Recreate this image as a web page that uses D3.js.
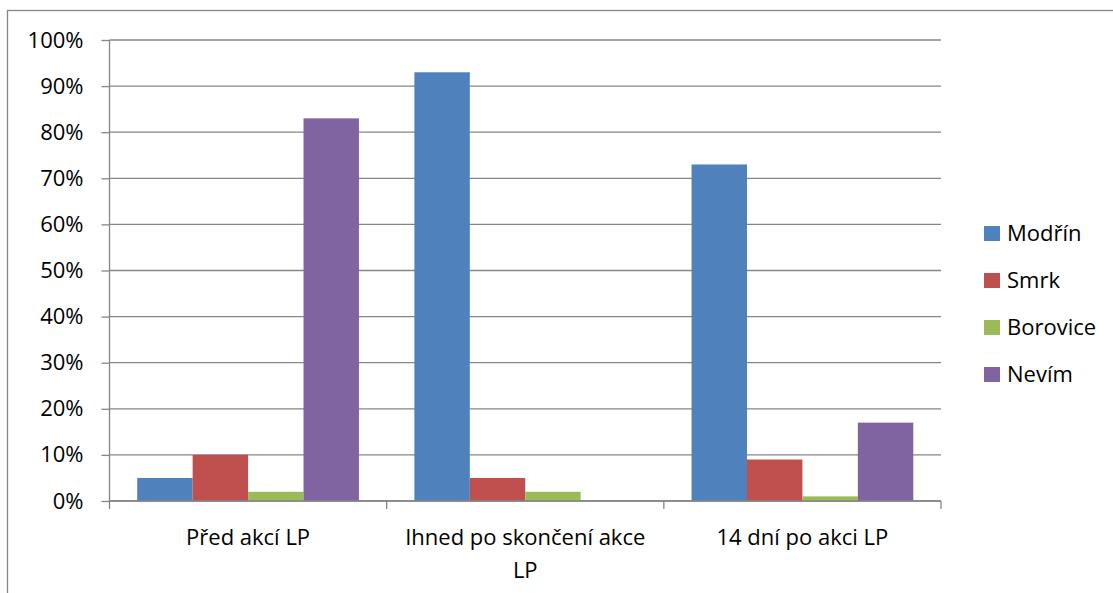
<!DOCTYPE html>
<html><head><meta charset="utf-8">
<script src="https://cdn.jsdelivr.net/npm/d3@7"></script>
<style>body{margin:0;background:#fff}svg{display:block}</style>
</head><body>
<svg id="c" width="1113" height="593"></svg>
<script>
const categories = ["Před akcí LP", "Ihned po skončení akce LP", "14 dní po akci LP"];
const seriesNames = ["Modřín", "Smrk", "Borovice", "Nevím"];
const modrin = [5, 93, 73];
const smrk = [10, 5, 9];
const borovice = [2, 2, 1];
const nevim = [83, 0, 17];
const yTicks = [0, 10, 20, 30, 40, 50, 60, 70, 80, 90, 100];
const colors = ["#4F81BD", "#C0504D", "#9BBB59", "#8064A2"];
const seriesVals = [modrin, smrk, borovice, nevim];

const svg = d3.select("#c");
const font = "'Open Sans', sans-serif";
const fs = 22;
const grid = "#868686";

svg.append("rect").attr("x", 7.5).attr("y", 10.5).attr("width", 1200).attr("height", 700)
  .attr("fill", "none").attr("stroke", grid).attr("stroke-width", 1.3);

const L = 109.5, R = 941, T = 40, B = 501;
const x0 = d3.scaleBand().domain(categories).range([L, R]).paddingInner(0).paddingOuter(0);
const x1 = d3.scaleBand().domain(seriesNames).range([0, x0.bandwidth()]).paddingOuter(0.5).paddingInner(0);
const y = d3.scaleLinear().domain([0, 100]).range([B, T]);

// gridlines
svg.append("g").selectAll("line").data(yTicks).join("line")
  .attr("x1", L).attr("x2", R).attr("y1", d => y(d)).attr("y2", d => y(d))
  .attr("stroke", grid).attr("stroke-width", 1.3);

// y axis
const ya = svg.append("g").attr("transform", `translate(${L},0)`)
  .call(d3.axisLeft(y).tickValues(yTicks).tickFormat(d => d + "%").tickSize(8).tickPadding(18));
ya.select(".domain").attr("stroke", grid).attr("stroke-width", 1.3).attr("d", `M0,${T}V${B}`);
ya.selectAll(".tick line").attr("stroke", grid).attr("stroke-width", 1.3);
ya.selectAll("text").attr("font-family", font).attr("font-size", fs).attr("fill", "#000");

// bars
const groups = svg.append("g").selectAll("g").data(categories).join("g")
  .attr("transform", d => `translate(${x0(d)},0)`);
groups.selectAll("rect").data((c, i) => seriesNames.map((s, j) => ({s, v: seriesVals[j][i], j})))
  .join("rect")
  .attr("x", d => x1(d.s)).attr("width", x1.bandwidth())
  .attr("y", d => y(d.v)).attr("height", d => B - y(d.v))
  .attr("fill", d => colors[d.j]);

// x axis
const xa = svg.append("g").attr("transform", `translate(0,${B})`)
  .call(d3.axisBottom(x0).tickSize(0).tickFormat(""));
xa.select(".domain").attr("stroke", grid).attr("stroke-width", 1.3).attr("d", `M${L},0H${R}`);
const tickXs = [L, ...categories.map(c => x0(c) + x0.bandwidth())];
svg.append("g").selectAll("line").data(tickXs).join("line")
  .attr("x1", d => d).attr("x2", d => d).attr("y1", B).attr("y2", B + 8)
  .attr("stroke", grid).attr("stroke-width", 1.3);

const labelLines = [["Před akcí LP"], ["Ihned po skončení akce", "LP"], ["14 dní po akci LP"]];
categories.forEach((c, i) => {
  const t = svg.append("text").attr("x", x0(c) + x0.bandwidth() / 2).attr("y", 545)
    .attr("text-anchor", "middle").attr("font-family", font).attr("font-size", fs).attr("fill", "#000");
  labelLines[i].forEach((ln, k) => t.append("tspan").attr("x", x0(c) + x0.bandwidth() / 2).attr("dy", k ? 33 : 0).text(ln));
});

// legend
const lg = svg.append("g").selectAll("g").data(seriesNames).join("g")
  .attr("transform", (d, i) => `translate(984,${226 + i * 47})`);
lg.append("rect").attr("width", 16).attr("height", 15).attr("fill", (d, i) => colors[i]);
lg.append("text").attr("x", 23).attr("y", 15).attr("font-family", font).attr("font-size", fs)
  .attr("fill", "#000").text(d => d);
</script>
</body></html>
